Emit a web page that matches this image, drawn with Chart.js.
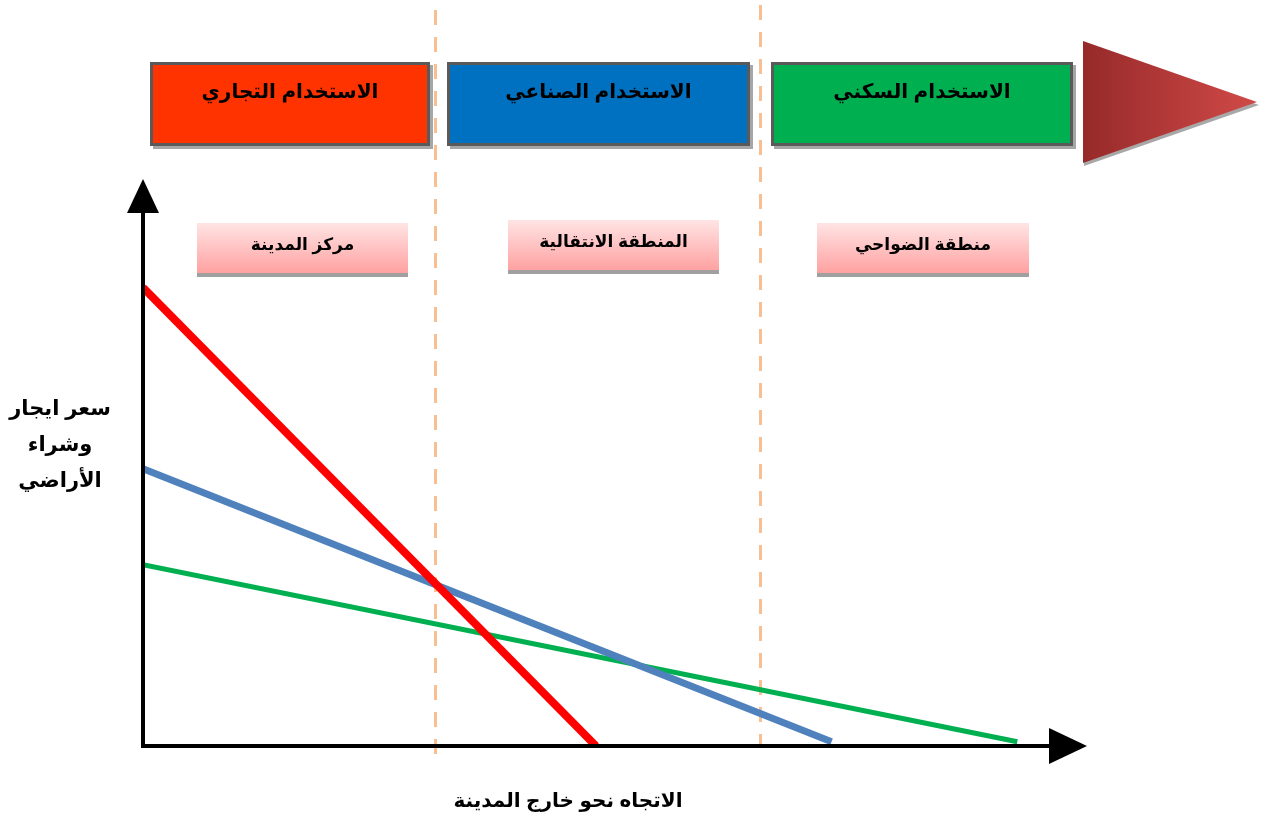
<!DOCTYPE html>
<html lang="ar">
<head>
<meta charset="utf-8">
<script src="https://cdn.jsdelivr.net/npm/chart.js@4.4.1/dist/chart.umd.min.js"></script>
<style>
  body { margin: 0; background: #fff; }
  #wrap { position: relative; width: 1264px; height: 825px; overflow: hidden; }
  canvas { position: absolute; left: 0; top: 0; }
  .lbl { position: absolute; direction: rtl; font-family: "Liberation Sans", "DejaVu Sans", sans-serif; font-weight: bold; color: #000; text-align: center; }
  .use { height: 78px; border: 3px solid #5a5a5a; box-shadow: 3px 3px 0 #a6a6a6; font-size: 20px; line-height: 24px; box-sizing: content-box; }
  .use span { display: block; margin-top: 14px; }
  .zone { height: 50px; background: linear-gradient(#ffe4e4, #ffa1a1); box-shadow: 0 4px 0 #a0a0a0; font-size: 17px; line-height: 44px; }
</style>
</head>
<body>
<div id="wrap">
  <canvas id="chart" width="1264" height="825"></canvas>
  <div class="lbl use" style="left:150px; top:62px; width:274px; background:#ff3300;"><span>الاستخدام التجاري</span></div>
  <div class="lbl use" style="left:447px; top:62px; width:297px; background:#0070c0;"><span>الاستخدام الصناعي</span></div>
  <div class="lbl use" style="left:771px; top:62px; width:296px; background:#00b050;"><span>الاستخدام السكني</span></div>
  <div class="lbl zone" style="left:197px; top:223px; width:211px;">مركز المدينة</div>
  <div class="lbl zone" style="left:508px; top:220px; width:211px;">المنطقة الانتقالية</div>
  <div class="lbl zone" style="left:817px; top:223px; width:212px;">منطقة الضواحي</div>
  <div class="lbl" style="left:0; top:390px; width:120px; font-size:21px; line-height:36px;">سعر ايجار<br>وشراء<br>الأراضي</div>
  <div class="lbl" style="left:418px; top:788px; width:300px; font-size:20px;">الاتجاه نحو خارج المدينة</div>
</div>
<script>
// distance from the city centre (x) and land price (y), 0-100 scale
const commercial = [{ x: 0, y: 86 }, { x: 50, y: 0 }];
const industrial = [{ x: 0, y: 52 }, { x: 76, y: 0.8 }];
const residential = [{ x: 0, y: 34 }, { x: 96.5, y: 0.8 }];
const zoneBounds = [32.2, 68.1];

// dashed zone separators, drawn behind the lines
const zonesPlugin = {
  id: 'zones',
  beforeDatasetsDraw(chart) {
    const { ctx, scales: { x }, chartArea } = chart;
    ctx.save();
    ctx.strokeStyle = '#f9bf90';
    ctx.lineWidth = 3;
    ctx.setLineDash([15, 12]);
    zoneBounds.forEach((b, i) => {
      const px = Math.round(x.getPixelForValue(b)) + 0.5;
      ctx.beginPath();
      ctx.moveTo(px, i === 0 ? 10 : 5);
      ctx.lineTo(px, chartArea.bottom + (i === 0 ? 9 : 0));
      ctx.stroke();
    });
    ctx.restore();
  }
};

// axes with arrow heads and the big arrow at the top right
const axesPlugin = {
  id: 'axes',
  afterDatasetsDraw(chart) {
    const { ctx, chartArea: a } = chart;
    ctx.save();
    ctx.strokeStyle = '#000';
    ctx.fillStyle = '#000';
    ctx.lineWidth = 4;
    ctx.beginPath();
    ctx.moveTo(a.left, a.bottom);
    ctx.lineTo(a.left, a.top);
    ctx.moveTo(a.left - 2, a.bottom);
    ctx.lineTo(a.right, a.bottom);
    ctx.stroke();
    ctx.beginPath();
    ctx.moveTo(a.left - 16, a.top);
    ctx.lineTo(a.left, a.top - 34);
    ctx.lineTo(a.left + 16, a.top);
    ctx.closePath();
    ctx.fill();
    ctx.beginPath();
    ctx.moveTo(a.right, a.bottom - 18);
    ctx.lineTo(a.right + 38, a.bottom);
    ctx.lineTo(a.right, a.bottom + 18);
    ctx.closePath();
    ctx.fill();

    // direction arrow
    ctx.fillStyle = '#a8a8a8';
    ctx.beginPath();
    ctx.moveTo(1084, 44);
    ctx.lineTo(1259, 105);
    ctx.lineTo(1084, 166);
    ctx.closePath();
    ctx.fill();
    const g = ctx.createLinearGradient(1083, 0, 1257, 0);
    g.addColorStop(0, '#962a2a');
    g.addColorStop(1, '#d04a47');
    ctx.fillStyle = g;
    ctx.beginPath();
    ctx.moveTo(1083, 41);
    ctx.lineTo(1257, 102);
    ctx.lineTo(1083, 163);
    ctx.closePath();
    ctx.fill();
    ctx.restore();
  }
};

new Chart(document.getElementById('chart'), {
  type: 'line',
  data: {
    datasets: [
      { label: 'الاستخدام التجاري', data: commercial, borderColor: '#ff0000', borderWidth: 8 },
      { label: 'الاستخدام الصناعي', data: industrial, borderColor: '#4f81bd', borderWidth: 7 },
      { label: 'الاستخدام السكني', data: residential, borderColor: '#00b050', borderWidth: 5 }
    ]
  },
  options: {
    responsive: false,
    animation: false,
    layout: { padding: { left: 143, right: 215, top: 213, bottom: 79 } },
    elements: { point: { radius: 0 }, line: { tension: 0 } },
    plugins: { legend: { display: false }, tooltip: { enabled: false } },
    scales: {
      x: { type: 'linear', min: 0, max: 100, display: false },
      y: { min: 0, max: 100, display: false }
    }
  },
  plugins: [zonesPlugin, axesPlugin]
});
</script>
</body>
</html>
